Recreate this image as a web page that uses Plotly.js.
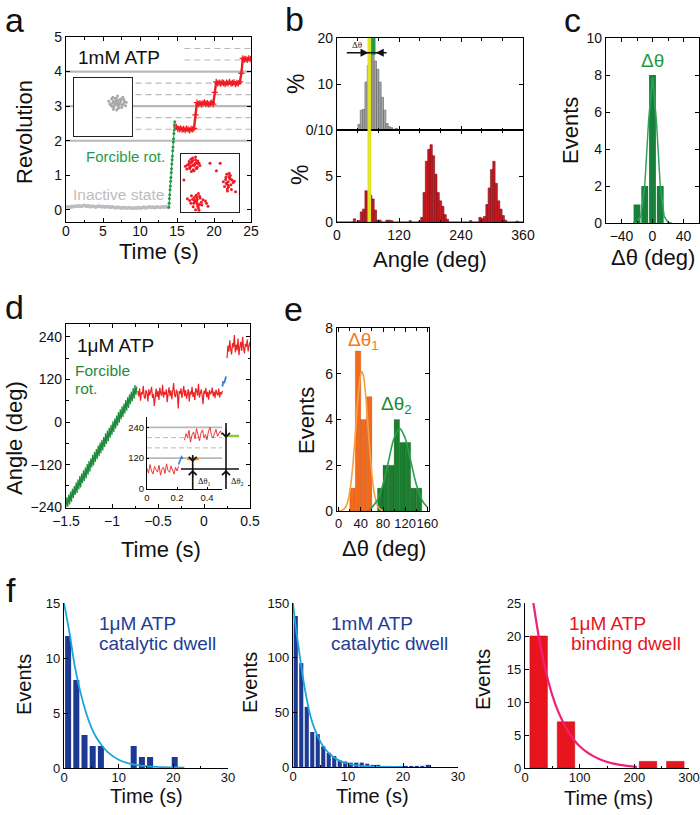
<!DOCTYPE html>
<html><head><meta charset="utf-8">
<script src="https://cdn.plot.ly/plotly-3.0.1.min.js"></script>
<style>body{margin:0;background:#fff}#chart{width:700px;height:815px}</style>
</head><body><div id="chart"></div>
<script>
// ================= DATA =================
// Panel a: revolution vs time (1mM ATP)
const aGrayY = [0.08,0.09,0.07,0.10,0.09,0.11,0.10,0.12,0.10,0.11,
  0.13,0.10,0.12,0.09,0.11,0.10,0.08,0.10,0.11,0.09,
  0.10,0.08,0.10,0.09,0.07,0.09,0.08,0.06,0.08,0.07,
  0.05,0.07,0.06,0.05,0.07,0.06,0.04,0.06,0.05,0.07,
  0.05,0.06,0.08,0.06,0.07,0.09,0.07,0.08,0.06,0.09,
  0.08,0.07,0.09,0.08,0.10,0.07,0.08];
const aGrayStart = 0, aGrayStep = 0.25;
const aGreenY = [0.08,0.19,0.33,0.44,0.58,0.69,0.83,0.94,1.08,1.19,1.33,1.45,1.56,1.71,1.82,1.96,2.06,2.21,2.31,2.46,2.55];
const aGreenStart = 13.9, aGreenStep = 0.04;
const aRedY = [2.40,2.35,2.33,2.36,2.32,2.34,2.31,2.35,2.33,2.30,2.34,2.33,2.36,
  2.75,
  3.10,3.06,3.09,3.05,3.08,3.11,3.07,3.09,3.05,3.08,3.10,3.06,
  3.40,
  3.70,3.66,3.68,3.65,3.69,3.67,3.64,3.68,3.66,3.70,3.65,3.67,3.69,3.64,3.67,3.66,3.70,
  3.95,
  4.38,4.35,4.37,4.34,4.38,4.36];
const aRedStart = 14.9, aRedStep = 0.2;
const aSolidLevels = [2, 3, 4];
const aDashLevels = [2.333, 2.667, 3.333, 3.667, 4.333, 4.667];
const aDashFrom = [9.4, 9.4, 9.4, 9.4, 16, 16];
// Panel a insets (bead positions)
const aInGrayX = [0.48,0.6,0.32,0.66,0.42,0.74,0.24,0.52,0.45,0.68,0.36,0.58,0.2,0.78,0.5,0.4,0.63,0.3,0.55,0.44,0.7,0.34,0.6,0.47,0.28,0.8,0.52,0.38,0.56,0.46,0.64,0.36,0.5,0.72,0.33,0.48,0.54,0.42,0.6,0.5];
const aInGrayY = [0.14,0.26,0.02,0.06,0.3,0.18,0.1,-0.04,0.22,0.34,-0.08,0.12,0.2,0.04,0.38,0.08,0.24,0.28,-0.02,0.16,0.1,0.34,0.28,-0.1,0.06,0.16,0.22,0.0,0.1,0.3,-0.02,0.2,0.06,0.26,0.14,0.18,0.08,0.12,0.16,0.2];
const aInRedX = [-0.58,-0.45,-0.7,-0.5,-0.66,-0.4,-0.8,-0.6,-0.48,-0.72,-0.55,-0.35,-0.68,-0.46,-0.78,-0.6,-0.42,-0.64,-0.52,-0.85,-0.5,-0.7,-0.44,-0.62,-0.56,-0.38,-0.74,-0.58,-0.5,-0.66,
  0.63,0.55,0.72,0.58,0.76,0.5,0.68,0.6,0.8,0.54,0.7,0.62,0.74,0.57,0.66,0.84,0.6,0.7,0.46,0.64,0.66,0.56,
  -0.46,-0.36,-0.56,-0.3,-0.54,-0.42,-0.64,-0.4,-0.24,-0.5,-0.7,-0.44,-0.58,-0.34,-0.16,-0.48,-0.66,-0.4,-0.52,-0.28,-0.46,-0.6,-0.38,-0.78,-0.12,-0.5,-0.44,-0.36,-0.54,-0.46,
  0.0,0.35,-0.07,0.22,0.88,-0.9];
const aInRedY = [0.62,0.7,0.54,0.8,0.58,0.66,0.48,0.86,0.52,0.74,0.42,0.6,0.68,0.5,0.62,0.78,0.76,0.4,0.64,0.58,0.9,0.5,0.54,0.72,0.6,0.68,0.64,0.46,0.7,0.82,
  0.04,0.2,-0.06,0.3,0.1,-0.12,0.16,-0.2,0.02,0.12,0.26,-0.08,-0.22,0.0,0.34,0.06,-0.28,0.14,0.04,-0.14,0.22,-0.02,
  -0.59,-0.46,-0.7,-0.66,-0.5,-0.8,-0.44,-0.36,-0.58,-0.92,-0.6,-0.72,-0.82,-0.52,-0.62,-0.42,-0.7,-0.86,-0.64,-0.76,-0.48,-0.56,-0.94,-0.54,-0.7,-0.62,-0.56,-0.74,-0.6,-0.66,
  0.68,0.68,-0.8,0.42,-0.3,0.1];

// Panel b: angle histograms (%), 4.5 deg bins from 0 to 360
const bBinWidth = 4.5;
const bGrayPct = [0,0,0,0,0,0,0,0,0,1.2, 4.3,4.5,10.4,14,17,16.5,15,13.2,10.4,7.1,
  4.3,1.4,0.7,0.5,0,0.35,0,0,0,0, 0,0,0,0,0,0,0,0,0,0,
  0,0,0,0,0,0,0,0,0,0, 0,0,0,0,0,0,0,0,0,0,
  0,0,0,0,0,0,0,0,0,0, 0,0,0,0,0,0,0,0,0,0];
const bRedPct = [0,0,0,0,0,0,0,0.35,0,0.15, 1.1,1.4,3.4,3.3,2.9,2.5,1.3,0.2,0.2,0,
  0,0.2,0.2,0.15,0,0,0,0,0,0, 0,0.15,0,0,0,0.1,0.5,3.2,6.6,7.9,
  8.4,7.2,5.2,3.2,2.3,1.7,0.8,0.3,0,0, 0,0,0,0,0,0,0,0.15,0,0,
  0,0.5,0.4,0.6,1.9,3.7,5.7,6.6,4.2,2.3, 1.4,0.7,0.2,0,0,0,0,0.1,0,0];
const bYellowBand = [59, 66];       // deg
const bGreenBand = [66, 74.5];      // deg
const bGreenBandPct = [16.3, 20];   // % (top histogram)
const bArrowSpan = [19, 96];        // deg
const bArrowTips = [61, 75];        // deg
const bArrowLevel = 16.8;           // %

// Panel c: Δθ histogram
const cCenters = [-20, -10, 0, 10];
const cEvents = [1, 2, 8, 2];
const cFitX = [-25,-20,-15,-10,-5,0,5,10,15,20,25];
const cFitY = [0,0.03,0.37,2.0,5.55,7.9,5.55,2.0,0.37,0.03,0];

// Panel d: angle vs time (1µM ATP)
const dGreenY = [-240,-212,-238,-204,-232,-196,-224,-188,-214,-180,
  -205,-170,-200,-162,-190,-152,-184,-145,-172,-136,
  -166,-128,-158,-118,-148,-110,-140,-102,-128,-92,
  -122,-84,-112,-76,-104,-66,-96,-58,-88,-50,
  -80,-42,-70,-32,-62,-24,-54,-16,-44,-8,
  -36,2,-28,10,-18,18,-10,28,-2,36,
  8,44,14,52,24,62,32,70,40,78,
  50,86,58,96,66,104,76,100];
const dGreenStart = -1.5, dStep = 0.01;
const dRed1Y = [88,72,95,60,84,78,102,70,66,90,
  81,58,92,75,86,99,68,79,45,83,
  94,71,88,62,97,80,74,105,69,85,
  77,92,56,81,98,73,89,64,83,110,
  76,70,91,82,38,87,79,95,68,84,
  101,73,90,66,80,93,58,86,77,99,
  71,84,62,95,88,74,108,69,81,92,
  76,50,88,79,96,70,85,63,90,78,
  83,97,72,86,67,91,80,75,94,69,
  84,78,88];
const dRed1Start = -0.72;
const dBlueY = [100,115,110,122,128];
const dBlueStart = 0.20;
const dRed2Y = [180,215,198,230,205,190,222,210,245,196,218,202,235,188,212,226,200,240,208,193,220,212,232,199,215,225];
const dRed2Start = 0.25;
// Panel d inset
const dInRed1Y = [80,62,95,70,58,88,75,66,92,54,78,85,60,98,72,65,90,76,58,84,70,88];
const dInBlueT = [0.21,0.22,0.23,0.24];
const dInBlueY = [95,110,125,118];
const dInRed2Y = [190,215,200,228,182,210,222,195,235,205,188,218,230,200,212,192,225,240,208,198,220,232,205,214,226,210];
const dInRed2Start = 0.25;
const dInSolid = [120, 240];
const dInDash = [160, 200];

// Panel e: Δθ1 / Δθ2 histograms
const eCenters1 = [25, 35, 45, 55];
const eEvents1 = [1, 7, 4, 5];
const eCenters2 = [75, 85, 95, 105, 115, 125, 135, 145];
const eEvents2 = [1, 2, 2, 4, 3, 3, 1, 1];
const eFit1X = [0,5,10,15,20,25,30,35,40,42,45,50,55,60,65,70,75,80];
const eFit1Y = [0,0.02,0.09,0.3,0.83,1.85,3.36,4.98,5.98,6.1,5.88,4.68,3.03,1.6,0.68,0.24,0.07,0.02];
const eFit2X = [55,60,70,80,90,100,110,120,130,140,150,160];
const eFit2Y = [0.05,0.16,0.49,1.17,2.18,3.18,3.6,3.18,2.18,1.17,0.49,0.16];

// Panel f: dwell-time histograms
const f1Centers = [0.75, 2.25, 3.75, 5.25, 6.75, 12.75, 14.25, 15.75, 20.25];
const f1Events = [12, 8, 3, 2, 2, 2, 1, 1, 1];
const f1FitX = [0,1,2,3,4,5,6,7,8,10,12,14,17,20,22];
const f1FitY = [15,12.3,9.2,6.9,5.1,3.7,2.7,2.0,1.45,0.75,0.4,0.22,0.1,0.05,0.03];
const f2Events = [138,95,55,32,30,19,13,10,6,5,4,4,4,3,2,2,1,1,0,1,1,1,1,1,2,0,0,0,0,0];
const f2BinWidth = 1;
const f2FitX = [0,0.5,1,1.5,2,2.5,3,3.5,4,5,6,7,8,9,10,11,12,14,16,20];
const f2FitY = [150,128,110,92,76,62,50,41,34,23,15.5,10.5,7,4.6,3,2,1.3,0.6,0.2,0];
const f3Centers = [25, 75, 225, 275];
const f3Events = [20, 7, 1, 1];
const f3FitX = [15,20,25,30,40,50,60,70,80,90,100,110,125,140,160,180,200,205];
const f3FitY = [25.2,22.5,20,17.8,14,11,8.7,6.9,5.4,4.2,3.3,2.6,1.8,1.2,0.7,0.4,0.2,0.15];

// ================= DRAWING =================
const FONT = '"Liberation Sans", Arial, Helvetica, sans-serif';
const SERIF = '"Liberation Serif", "DejaVu Serif", serif';
const W = 700, H = 815;
const PX = v => v / W;
const PY = v => 1 - v / H;
const grid = (t0, dt, n) => Array.from({length: n}, (_, i) => +(t0 + i * dt).toFixed(4));
const ids = n => n === 1 ? ['x', 'y'] : ['x' + n, 'y' + n];

const layout = {
  width: W, height: H, margin: {l: 0, r: 0, t: 0, b: 0},
  paper_bgcolor: '#fff', plot_bgcolor: '#fff', showlegend: false,
  font: {family: FONT, color: '#111'}, shapes: [], annotations: []
};
function baseAxis(extra) {
  return Object.assign({
    showline: true, linecolor: '#000', linewidth: 1.2, mirror: 'ticks',
    ticks: 'inside', ticklen: 4, tickwidth: 1, tickcolor: '#000', tickangle: 0,
    showgrid: false, zeroline: false, fixedrange: true,
    tickfont: {family: FONT, size: 14, color: '#111'}
  }, extra);
}
const minor = d => ({dtick: d, ticks: 'inside', ticklen: 2.5, tickwidth: 1, tickcolor: '#000'});
function setAxes(n, xpx, ypx, xo, yo) {
  const xs = n === 1 ? 'xaxis' : 'xaxis' + n, ys = n === 1 ? 'yaxis' : 'yaxis' + n;
  layout[xs] = baseAxis(Object.assign({domain: [PX(xpx[0]), PX(xpx[1])], anchor: ids(n)[1]}, xo));
  layout[ys] = baseAxis(Object.assign({domain: [PY(ypx[1]), PY(ypx[0])], anchor: ids(n)[0]}, yo));
}
const traces = [];
function addLine(n, x, y, color, width, extra) {
  traces.push(Object.assign({type: 'scatter', mode: 'lines', x, y, xaxis: ids(n)[0], yaxis: ids(n)[1],
    line: Object.assign({color, width}, (extra && extra.lineExtra) || {}), hoverinfo: 'skip', cliponaxis: true},
    extra && extra.trace || {}));
}
function addBars(n, x, y, width, color, lineColor, lineW) {
  traces.push({type: 'bar', x, y, width, xaxis: ids(n)[0], yaxis: ids(n)[1], hoverinfo: 'skip',
    marker: {color, line: {color: lineColor, width: lineW}}});
}
function txt(x, y, text, size, color, opts) {
  layout.annotations.push(Object.assign({xref: 'paper', yref: 'paper', x: PX(x), y: PY(y), text,
    showarrow: false, font: {family: FONT, size, color}, xanchor: 'center', yanchor: 'middle'}, opts || {}));
}

// ---------- Panel a ----------
setAxes(1, [66, 251], [37, 222],
  {range: [0, 25], tick0: 0, dtick: 5, minor: minor(2.5), ticklabelstandoff: -4},
  {range: [-0.35, 5], tick0: 0, dtick: 1});
aSolidLevels.forEach(L => addLine(1, [0, 25], [L, L], '#b9b9b9', 2.2));
aDashLevels.forEach((L, i) => addLine(1, [aDashFrom[i], 25], [L, L], '#b9b9b9', 1.1, {lineExtra: {dash: '6px,4px'}}));
addLine(1, grid(aGrayStart, aGrayStep, aGrayY.length), aGrayY, '#bdbdbd', 3.5);
addLine(1, grid(aGreenStart, aGreenStep, aGreenY.length), aGreenY, '#1f9a4a', 1,
  {trace: {mode: 'lines+markers', marker: {color: '#1f9a4a', size: 3}}});
addLine(1, grid(aRedStart, aRedStep, aRedY.length), aRedY, '#ee1c24', 2.4,
  {trace: {mode: 'lines+markers', marker: {color: '#ee1c24', size: 4.5, symbol: 'cross-thin-open', line: {color: '#ee1c24', width: 1.3}}}});
const insetAxis = {range: [-1, 1], ticks: '', showticklabels: false, mirror: true, linewidth: 1, linecolor: '#222'};
setAxes(2, [74, 132], [78, 136], insetAxis, insetAxis);
setAxes(3, [181, 239], [154, 212], insetAxis, insetAxis);
traces.push({type: 'scatter', mode: 'markers', x: aInGrayX, y: aInGrayY, xaxis: 'x2', yaxis: 'y2', hoverinfo: 'skip',
  marker: {color: '#a8a8a8', size: 3}});
traces.push({type: 'scatter', mode: 'markers', x: aInRedX, y: aInRedY, xaxis: 'x3', yaxis: 'y3', hoverinfo: 'skip',
  marker: {color: '#ee1c24', size: 3}});

// ---------- Panel b ----------
const bCenters = bGrayPct.map((_, k) => bBinWidth / 2 + k * bBinWidth);
setAxes(4, [337, 523], [38, 130],
  {range: [0, 360], tick0: 0, dtick: 120, showticklabels: false, minor: minor(40)},
  {range: [0, 20], tickvals: [10, 20]});
setAxes(5, [337, 523], [130, 222],
  {range: [0, 360], tick0: 0, dtick: 120, minor: minor(40)},
  {range: [0, 10], tickvals: [0, 5, 10], ticktext: ['0', '5', '0/10']});
addBars(4, bCenters, bGrayPct, bBinWidth, '#a9a9a9', '#5e5e5e', 0.6);
addBars(5, bCenters, bRedPct, bBinWidth, '#cc1d25', '#7c0c10', 0.6);
layout.shapes.push({type: 'rect', xref: 'x4', yref: 'paper', x0: bYellowBand[0], x1: bYellowBand[1],
  y0: PY(222), y1: PY(38), fillcolor: '#e2e524', line: {width: 0}, layer: 'above'});
layout.shapes.push({type: 'rect', xref: 'x4', yref: 'y4', x0: bGreenBand[0], x1: bGreenBand[1],
  y0: bGreenBandPct[0], y1: bGreenBandPct[1], fillcolor: '#1f9a46', line: {width: 0}, layer: 'above'});
layout.shapes.push({type: 'line', xref: 'x4', yref: 'y4', x0: bArrowSpan[0], x1: bArrowSpan[1],
  y0: bArrowLevel, y1: bArrowLevel, line: {color: '#111', width: 1.6}, layer: 'above'});
layout.annotations.push({xref: 'x4', yref: 'y4', axref: 'x4', ayref: 'y4', x: bArrowTips[0], y: bArrowLevel,
  ax: bArrowTips[0] - 14, ay: bArrowLevel, text: '', showarrow: true, arrowhead: 2, arrowsize: 1, arrowwidth: 1.6, arrowcolor: '#111'});
layout.annotations.push({xref: 'x4', yref: 'y4', axref: 'x4', ayref: 'y4', x: bArrowTips[1], y: bArrowLevel,
  ax: bArrowTips[1] + 14, ay: bArrowLevel, text: '', showarrow: true, arrowhead: 2, arrowsize: 1, arrowwidth: 1.6, arrowcolor: '#111'});
txt(357, 45, 'Δθ', 9, '#222', {font: {family: SERIF, size: 9, color: '#222'}});

// ---------- Panel c ----------
setAxes(6, [606, 699], [38, 223],
  {range: [-60, 60], tickvals: [-40, 0, 40], minor: minor(20)},
  {range: [0, 10], dtick: 2, tick0: 0});
addBars(6, cCenters, cEvents, 8.8, '#17803a', '#17803a', 0);
addLine(6, cFitX, cFitY, '#2fa456', 1.5);

// ---------- Panel d ----------
setAxes(7, [66, 250], [324, 508],
  {range: [-1.5, 0.5], tick0: -1.5, dtick: 0.5, minor: minor(0.25)},
  {range: [-242, 276], tickvals: [-240, -120, 0, 120, 240], minor: minor(60)});
addLine(7, grid(dGreenStart, dStep, dGreenY.length), dGreenY, '#1e8a3c', 1.2);
addLine(7, grid(dRed1Start, dStep, dRed1Y.length), dRed1Y, '#ee2222', 1.2);
addLine(7, grid(dBlueStart, dStep, dBlueY.length), dBlueY, '#2f7fd6', 1.8);
addLine(7, grid(dRed2Start, dStep, dRed2Y.length), dRed2Y, '#ee2222', 1.2);
setAxes(8, [147, 222], [417, 489],
  {range: [0, 0.5], tickvals: [0, 0.2, 0.4], mirror: false, ticklen: 2, linewidth: 1, tickfont: {family: FONT, size: 9.5, color: '#111'}},
  {range: [0, 280], tickvals: [0, 120, 240], mirror: false, ticklen: 2, linewidth: 1, tickfont: {family: FONT, size: 9.5, color: '#111'}});
dInSolid.forEach(L => addLine(8, [0, 0.5], [L, L], '#b9b9b9', 1.8));
dInDash.forEach(L => addLine(8, [0, 0.5], [L, L], '#b9b9b9', 1, {lineExtra: {dash: '5px,3px'}}));
addLine(8, grid(0, dStep, dInRed1Y.length), dInRed1Y, '#ee2222', 0.9);
addLine(8, dInBlueT, dInBlueY, '#2f7fd6', 1.6);
addLine(8, grid(dInRed2Start, dStep, dInRed2Y.length), dInRed2Y, '#ee2222', 0.9);
// schematic of Δθ1 / Δθ2
[[192.7, 455, 489], [226, 423, 489]].forEach(v => layout.shapes.push({type: 'line', xref: 'paper', yref: 'paper',
  x0: PX(v[0]), x1: PX(v[0]), y0: PY(v[1]), y1: PY(v[2]), line: {color: '#111', width: 1.6}}));
layout.shapes.push({type: 'line', xref: 'paper', yref: 'paper', x0: PX(181), x1: PX(239), y0: PY(469), y1: PY(469), line: {color: '#111', width: 1.6}});
layout.shapes.push({type: 'line', xref: 'paper', yref: 'paper', x0: PX(187), x1: PX(199), y0: PY(459), y1: PY(459), line: {color: '#f7941d', width: 2.5}});
layout.shapes.push({type: 'line', xref: 'paper', yref: 'paper', x0: PX(226), x1: PX(239), y0: PY(436), y1: PY(436), line: {color: '#8dc63f', width: 2.5}});
[[192.7, 462, -7], [192.7, 470, 9], [226, 438, -10], [226, 470, 9]].forEach(a => layout.annotations.push({
  xref: 'paper', yref: 'paper', x: PX(a[0]), y: PY(a[1]), ax: 0, ay: a[2], text: '', showarrow: true,
  arrowhead: 4, arrowsize: 1.1, arrowwidth: 1.4, arrowcolor: '#111'}));
txt(204, 481, 'Δθ<sub>1</sub>', 8.5, '#111', {font: {family: SERIF, size: 8.5, color: '#111'}});
txt(237, 481, 'Δθ<sub>2</sub>', 8.5, '#111', {font: {family: SERIF, size: 8.5, color: '#111'}});

// ---------- Panel e ----------
setAxes(9, [337, 429], [328, 511],
  {range: [-3, 163], tickvals: [0, 40, 80, 120, 160], minor: minor(20), tickfont: {family: FONT, size: 13, color: '#111'}},
  {range: [0, 8], dtick: 2, tick0: 0});
addBars(9, eCenters1, eEvents1, 10, '#f26a1b', 'rgba(120,40,0,0.35)', 0.5);
addBars(9, eCenters2, eEvents2, 10, '#1b7f2f', 'rgba(0,40,0,0.35)', 0.5);
addLine(9, eFit1X, eFit1Y, '#f7a044', 1.6, {lineExtra: {shape: 'spline'}});
addLine(9, eFit2X, eFit2Y, '#27a148', 1.6, {lineExtra: {shape: 'spline'}});

// ---------- Panel f ----------
const fAx = {mirror: false, tickfont: {family: FONT, size: 13, color: '#111'}};
const fX = Object.assign({ticklabelstandoff: -3}, fAx);
setAxes(10, [64, 228], [603, 768], Object.assign({range: [0, 30], dtick: 10, tick0: 0, minor: minor(5)}, fX),
  Object.assign({range: [0, 15], dtick: 5, tick0: 0}, fAx));
setAxes(11, [293, 458], [603, 767], Object.assign({range: [0, 30], dtick: 10, tick0: 0, minor: minor(5)}, fX),
  Object.assign({range: [0, 150], dtick: 50, tick0: 0}, fAx));
setAxes(12, [525, 689], [603, 768], Object.assign({range: [0, 300], dtick: 100, tick0: 0, minor: minor(50)}, fX),
  Object.assign({range: [0, 25], dtick: 5, tick0: 0}, fAx));
addBars(10, f1Centers, f1Events, 1.1, '#1c3a94', '#1c3a94', 0);
addLine(10, f1FitX, f1FitY, '#1aa6dc', 1.8, {lineExtra: {shape: 'spline'}});
addBars(11, f2Events.map((_, i) => f2BinWidth / 2 + i * f2BinWidth), f2Events, 0.75, '#1c3a94', '#1c3a94', 0);
addLine(11, f2FitX, f2FitY, '#1aa6dc', 1.8, {lineExtra: {shape: 'spline'}});
addBars(12, f3Centers, f3Events, 32, '#e8141e', '#b00a10', 0.5);
addLine(12, f3FitX, f3FitY, '#f0207a', 2.2, {lineExtra: {shape: 'spline'}});

// ---------- Texts ----------
// panel letters
[['a', 3, 20], ['b', 283, 19], ['c', 562, 20], ['d', 3, 307], ['e', 282, 309], ['f', 4, 590]].forEach(l =>
  txt(l[1], l[2], l[0], 34, '#111', {xanchor: 'left'}));
// panel a
txt(76, 57, '1mM ATP', 19, '#111', {xanchor: 'left'});
txt(84, 156, 'Forcible rot.', 15, '#1f9a4a', {xanchor: 'left'});
txt(71, 195, 'Inactive state', 15.5, '#bdbdbd', {xanchor: 'left'});
txt(25, 132, 'Revolution', 22, '#111', {textangle: -90});
txt(159, 251, 'Time (s)', 22, '#111');
// panel b
txt(296, 84, '%', 23, '#111', {textangle: -90});
txt(300, 175, '%', 23, '#111', {textangle: -90});
txt(430, 260, 'Angle (deg)', 22, '#111');
// panel c
txt(652, 60, 'Δθ', 19, '#1f9a46');
txt(571, 131, 'Events', 22, '#111', {textangle: -90});
txt(653, 258, 'Δθ (deg)', 22, '#111');
// panel d
txt(75, 345, '1μM ATP', 19, '#111', {xanchor: 'left'});
txt(73, 370, 'Forcible', 15.5, '#1e8a3c', {xanchor: 'left'});
txt(73, 388, 'rot.', 15.5, '#1e8a3c', {xanchor: 'left'});
txt(14, 438, 'Angle (deg)', 22, '#111', {textangle: -90});
txt(161, 549, 'Time (s)', 22, '#111');
// panel e
txt(363, 341, 'Δθ<sub>1</sub>', 19, '#f47920');
txt(396, 405, 'Δθ<sub>2</sub>', 19, '#1b8a35');
txt(306, 421, 'Events', 22, '#111', {textangle: -90});
txt(384, 548, 'Δθ (deg)', 22, '#111');
// panel f
const navy = '#1e3d96', red = '#e8141e';
txt(97, 623, '1μM ATP', 19, navy, {xanchor: 'left'});
txt(97, 643, 'catalytic dwell', 19, navy, {xanchor: 'left'});
txt(329, 623, '1mM ATP', 19, navy, {xanchor: 'left'});
txt(329, 643, 'catalytic dwell', 19, navy, {xanchor: 'left'});
txt(567, 623, '1μM ATP', 19, red, {xanchor: 'left'});
txt(569, 643, 'binding dwell', 19, red, {xanchor: 'left'});
txt(24, 685, 'Events', 20, '#111', {textangle: -90});
txt(250, 683, 'Events', 20, '#111', {textangle: -90});
txt(483, 679, 'Events', 20, '#111', {textangle: -90});
txt(146, 796, 'Time (s)', 20, '#111');
txt(373, 796, 'Time (s)', 20, '#111');
txt(608, 798, 'Time (ms)', 20, '#111');

Plotly.newPlot('chart', traces, layout, {staticPlot: true, displayModeBar: false});
</script></body></html>
